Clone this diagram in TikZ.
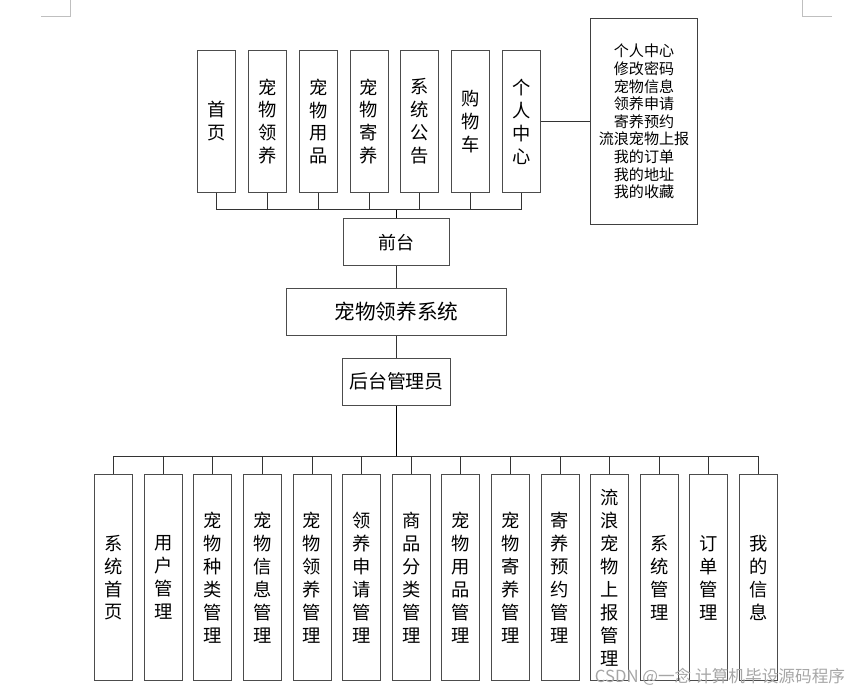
\documentclass[tikz,border=0pt]{standalone}
\usepackage{fontspec}
\setmainfont{Noto Sans CJK SC}
\tikzset{
    vbox/.style={draw=black!70, line width=0.75pt, fill=white, inner sep=0pt,
        minimum width=28.5pt, align=center,
        font=\fontsize{13.7pt}{17.2pt}\selectfont},
    topbox/.style={vbox, minimum height=106.2pt},
    lowbox/.style={vbox, minimum height=154.5pt},
    hbox/.style={draw=black!70, line width=0.75pt, fill=white, inner sep=0pt,
        minimum height=35.5pt},
    listbox/.style={draw=black!75, line width=0.75pt, fill=white, inner sep=0pt,
        minimum width=80pt, minimum height=154.3pt, align=center,
        font=\fontsize{11.3pt}{13.2pt}\selectfont},
    link/.style={draw=black!80, line width=0.75pt},
    trunk/.style={draw=black, line width=1.3pt},
    cropmark/.style={draw=black!25, line width=0.75pt},
}
\begin{document}
\begin{tikzpicture}[x=0.75pt,y=-0.75pt]
    \useasboundingbox (0,0) rectangle (850,691);
    % page corner marks
    \draw[cropmark] (70,0) -- (70,17) -- (41,17);
    \draw[cropmark] (802,0) -- (802,17) -- (832,17);

    % front end modules
    \node[topbox] (fm1) at (216.7,121.5) {首\\页};
    \node[topbox] (fm2) at (267.5,121.5) {宠\\物\\领\\养};
    \node[topbox] (fm3) at (318.3,121.5) {宠\\物\\用\\品};
    \node[topbox] (fm4) at (369.1,121.5) {宠\\物\\寄\\养};
    \node[topbox] (fm5) at (419.9,121.5) {系\\统\\公\\告};
    \node[topbox] (fm6) at (470.7,121.5) {购\\物\\车};
    \node[topbox] (fm7) at (521.5,121.5) {个\\人\\中\\心};
    \node[listbox] (pc) at (644,121.5) {个人中心\\修改密码\\宠物信息\\领养申请\\寄养预约\\流浪宠物上报\\我的订单\\我的地址\\我的收藏};

    \node[hbox, minimum width=80pt, font=\fontsize{13.5pt}{16pt}\selectfont] (fe) at (396.5,242.2) {前台};
    \node[hbox, minimum width=165.5pt, font=\fontsize{15.5pt}{18pt}\selectfont] (sys) at (396.5,311.8) {宠物领养系统};
    \node[hbox, minimum width=80.5pt, font=\fontsize{14.2pt}{16pt}\selectfont] (be) at (396.5,381.8) {后台管理员};

    % back end modules
    \node[lowbox] (bm1) at (113.7,577.7) {系\\统\\首\\页};
    \node[lowbox] (bm2) at (163.3,577.7) {用\\户\\管\\理};
    \node[lowbox] (bm3) at (212.9,577.7) {宠\\物\\种\\类\\管\\理};
    \node[lowbox] (bm4) at (262.5,577.7) {宠\\物\\信\\息\\管\\理};
    \node[lowbox] (bm5) at (312.1,577.7) {宠\\物\\领\\养\\管\\理};
    \node[lowbox] (bm6) at (361.7,577.7) {领\\养\\申\\请\\管\\理};
    \node[lowbox] (bm7) at (411.3,577.7) {商\\品\\分\\类\\管\\理};
    \node[lowbox] (bm8) at (460.9,577.7) {宠\\物\\用\\品\\管\\理};
    \node[lowbox] (bm9) at (510.5,577.7) {宠\\物\\寄\\养\\管\\理};
    \node[lowbox] (bm10) at (560.1,577.7) {寄\\养\\预\\约\\管\\理};
    \node[lowbox] (bm11) at (609.7,577.7) {流\\浪\\宠\\物\\上\\报\\管\\理};
    \node[lowbox] (bm12) at (659.3,577.7) {系\\统\\管\\理};
    \node[lowbox] (bm13) at (708.9,577.7) {订\\单\\管\\理};
    \node[lowbox] (bm14) at (758.5,577.7) {我\\的\\信\\息};

    % connectors
    \coordinate (febus) at (396.5,210);
    \coordinate (bebus) at (396.5,456.7);
    \draw[link] (fm1.south) |- (febus);
    \draw[link] (fm2.south) |- (febus);
    \draw[link] (fm3.south) |- (febus);
    \draw[link] (fm4.south) |- (febus);
    \draw[link] (fm5.south) |- (febus);
    \draw[link] (fm6.south) |- (febus);
    \draw[link] (fm7.south) |- (febus);
    \draw[trunk] (febus) -- (fe.north);
    \draw[link] (fm7.east) -- (pc.west);
    \draw[link] (fe.south) -- (sys.north);
    \draw[link] (sys.south) -- (be.north);
    \draw[trunk] (be.south) -- (bebus);
    \draw[link] (bm1.north) |- (bebus);
    \draw[link] (bm2.north) |- (bebus);
    \draw[link] (bm3.north) |- (bebus);
    \draw[link] (bm4.north) |- (bebus);
    \draw[link] (bm5.north) |- (bebus);
    \draw[link] (bm6.north) |- (bebus);
    \draw[link] (bm7.north) |- (bebus);
    \draw[link] (bm8.north) |- (bebus);
    \draw[link] (bm9.north) |- (bebus);
    \draw[link] (bm10.north) |- (bebus);
    \draw[link] (bm11.north) |- (bebus);
    \draw[link] (bm12.north) |- (bebus);
    \draw[link] (bm13.north) |- (bebus);
    \draw[link] (bm14.north) |- (bebus);

    % watermark
    \node[text=black!35, font=\fontsize{12.5pt}{14pt}\selectfont] (wm) at (720,676.5) {CSDN @一念 计算机毕设源码程序};
\end{tikzpicture}
\end{document}
